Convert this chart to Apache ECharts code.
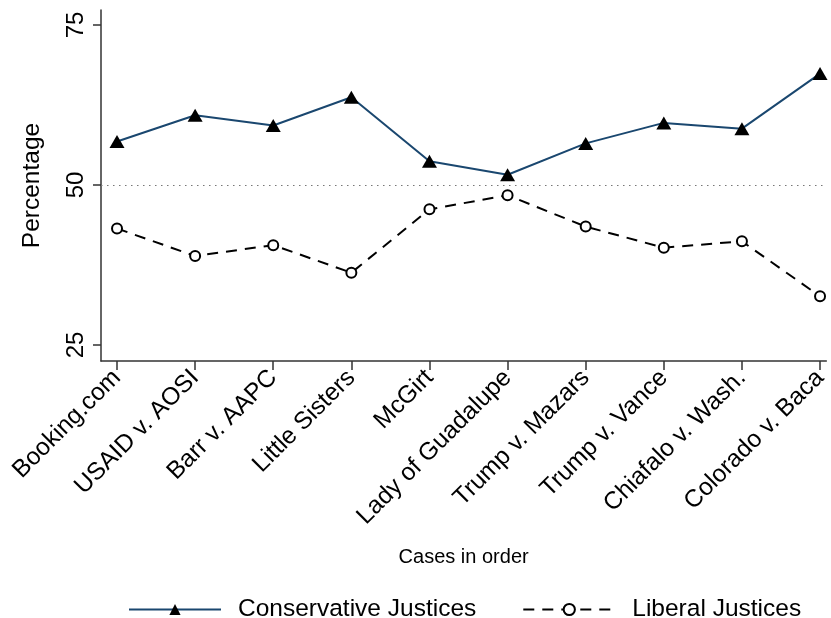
<!DOCTYPE html>
<html><head><meta charset="utf-8">
<script src="https://cdn.jsdelivr.net/npm/echarts@6/dist/echarts.min.js"></script>
<style>html,body{margin:0;padding:0;background:#fff}#c{width:831px;height:618px}</style>
</head><body><div id="c"></div>
<script>
const categories = ["Booking.com","USAID v. AOSI","Barr v. AAPC","Little Sisters","McGirt","Lady of Guadalupe","Trump v. Mazars","Trump v. Vance","Chiafalo v. Wash.","Colorado v. Baca"];
const conservative = [56.8, 60.9, 59.3, 63.7, 53.7, 51.6, 56.5, 59.7, 58.8, 67.4];
const liberal = [43.2, 38.9, 40.6, 36.3, 46.2, 48.4, 43.5, 40.2, 41.2, 32.6];
const yTicks = [25, 50, 75];
const xTicks = categories.map((c, i) => i);
const FONT = "'Liberation Sans', Arial, Helvetica, sans-serif";

const chart = echarts.init(document.getElementById('c'), null, {renderer: 'canvas'});
chart.setOption({
  animation: false,
  backgroundColor: '#fff',
  textStyle: {fontFamily: FONT, color: '#000'},
  grid: {left: 101, right: 0, top: 10, bottom: 257, containLabel: false},
  xAxis: {
    type: 'value', min: -0.205, max: 9.08,
    name: 'Cases in order', nameLocation: 'middle', nameGap: 186,
    nameTextStyle: {fontSize: 20, color: '#000', fontFamily: FONT},
    axisLine: {show: true, onZero: false, lineStyle: {color: '#333', width: 1.5}},
    axisTick: {show: true, length: 9, lineStyle: {color: '#333', width: 1.5}, customValues: xTicks},
    axisLabel: {show: true, rotate: 45, margin: 13, fontSize: 24.5, color: '#000', fontFamily: FONT,
      customValues: xTicks, formatter: v => categories[Math.round(v)] || ''},
    splitLine: {show: false}
  },
  yAxis: {
    type: 'value', min: 22.5, max: 77.34,
    name: 'Percentage', nameLocation: 'middle', nameGap: 56, nameRotate: 90,
    nameTextStyle: {fontSize: 24.5, color: '#000', fontFamily: FONT},
    axisLine: {show: true, onZero: false, lineStyle: {color: '#333', width: 1.5}},
    axisTick: {show: true, length: 8, lineStyle: {color: '#333', width: 1.5}, customValues: yTicks},
    axisLabel: {show: true, rotate: 90, margin: 13, fontSize: 24, color: '#000', fontFamily: FONT, customValues: yTicks},
    splitLine: {show: false}
  },
  legend: {
    left: 123, top: 592, itemWidth: 92, itemHeight: 14, itemGap: 46,
    textStyle: {fontSize: 24.5, color: '#000', fontFamily: FONT, padding: [0, 0, 0, 12]},
    data: ['Conservative Justices', 'Liberal Justices']
  },
  series: [
    {
      name: 'Conservative Justices', type: 'line',
      data: conservative.map((v, i) => [i, v]),
      symbol: 'triangle', symbolSize: [15, 13],
      itemStyle: {color: '#000'},
      lineStyle: {color: '#1a476f', width: 2},
      z: 3,
      markLine: {
        silent: true, symbol: 'none', label: {show: false},
        lineStyle: {color: '#777', type: [1.5, 4.5], width: 1.2},
        data: [{yAxis: 50}]
      }
    },
    {
      name: 'Liberal Justices', type: 'line',
      data: liberal.map((v, i) => [i, v]),
      symbol: 'emptyCircle', symbolSize: 10,
      itemStyle: {color: '#000', borderColor: '#000', borderWidth: 2},
      lineStyle: {color: '#000', width: 2, type: [11, 8]},
      z: 3
    }
  ]
});
</script></body></html>
